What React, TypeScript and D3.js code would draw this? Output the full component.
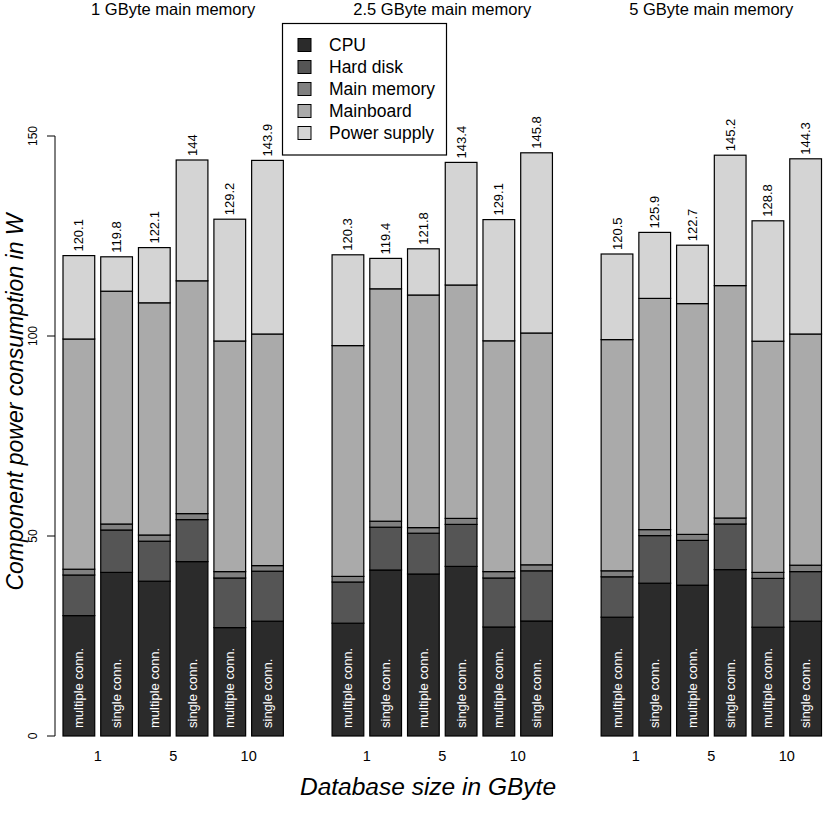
import React, { useEffect, useRef } from "react";
import * as d3 from "d3";

// panels (main memory size) and bars within each panel
const memoryConfigs = ["1 GByte main memory", "2.5 GByte main memory", "5 GByte main memory"];
const dbSizes = ["1", "5", "10"];
const connTypes = ["multiple conn.", "single conn."];

const components = ["CPU", "Hard disk", "Main memory", "Mainboard", "Power supply"];
const componentColors = ["#2b2b2b", "#555555", "#808080", "#aaaaaa", "#d4d4d4"];

// 18 bars: panel by panel, db size 1/5/10, multiple then single conn.
const cpu = [
  30.1, 40.9, 38.7, 43.6, 27.1, 28.7,
  28.2, 41.5, 40.5, 42.4, 27.25, 28.75,
  29.7, 38.2, 37.7, 41.6, 27.2, 28.7,
];
const hardDisk = [
  10.15, 10.6, 10.0, 10.5, 12.4, 12.5,
  10.3, 10.7, 10.2, 10.5, 12.25, 12.55,
  10.1, 11.9, 11.2, 11.4, 12.2, 12.4,
];
const mainMemory = [
  1.45, 1.5, 1.55, 1.5, 1.6, 1.4,
  1.4, 1.5, 1.4, 1.5, 1.6, 1.5,
  1.5, 1.5, 1.5, 1.5, 1.5, 1.6,
];
const mainboard = [
  57.55, 58.2, 58.05, 58.2, 57.65, 57.9,
  57.7, 58.1, 58.15, 58.35, 57.7, 57.95,
  57.8, 57.8, 57.7, 58.1, 57.8, 57.8,
];
const powerSupply = [
  20.85, 8.6, 13.8, 30.2, 30.45, 43.4,
  22.7, 7.6, 11.55, 30.65, 30.3, 45.05,
  21.4, 16.5, 14.6, 32.6, 30.1, 43.8,
];
const totals = [
  120.1, 119.8, 122.1, 144, 129.2, 143.9,
  120.3, 119.4, 121.8, 143.4, 129.1, 145.8,
  120.5, 125.9, 122.7, 145.2, 128.8, 144.3,
];
const yTicks = [0, 50, 100, 150];

const FONT = "'Liberation Sans', Arial, Helvetica, sans-serif";

const App = () => {
  const ref = useRef<SVGSVGElement>(null);

  useEffect(() => {
    document.body.style.margin = "0";
    const svg = d3.select(ref.current);
    svg.selectAll("*").remove();

    const series = [cpu, hardDisk, mainMemory, mainboard, powerSupply];
    const nPer = dbSizes.length * connTypes.length;

    const rows = totals.map((t, i) => {
      const r: any = { idx: i, panel: Math.floor(i / nPer), pos: i % nPer, total: t };
      components.forEach((c, k) => (r[c] = series[k][i]));
      return r;
    });

    const y = d3.scaleLinear().domain([0, 150]).range([736, 136]);
    const xPanel = d3
      .scaleBand<number>()
      .domain(d3.range(memoryConfigs.length))
      .range([63, 821.5])
      .paddingInner(0.181);
    const xBar = d3
      .scaleBand<number>()
      .domain(d3.range(nPer))
      .range([0, xPanel.bandwidth()])
      .paddingInner(0.159)
      .paddingOuter(0);

    const bx = (d: any) => xPanel(d.panel)! + xBar(d.pos)!;
    const bw = xBar.bandwidth();

    const stack = d3.stack<any>().keys(components);
    const layers = stack(rows);

    const g = svg.append("g");

    g.selectAll("g.layer")
      .data(layers)
      .enter()
      .append("g")
      .attr("class", "layer")
      .attr("fill", (d, i) => componentColors[i])
      .selectAll("rect")
      .data((d) => d)
      .enter()
      .append("rect")
      .attr("x", (d: any) => bx(d.data))
      .attr("width", bw)
      .attr("y", (d: any) => y(d[1]))
      .attr("height", (d: any) => y(d[0]) - y(d[1]))
      .attr("stroke", "#000")
      .attr("stroke-width", 1.2);

    // connection type labels inside bars
    g.selectAll("text.conn")
      .data(rows)
      .enter()
      .append("text")
      .attr("class", "conn")
      .attr("transform", (d) => `translate(${bx(d) + bw / 2},${y(0) - 8}) rotate(-90)`)
      .attr("dy", "0.35em")
      .attr("fill", "#fff")
      .style("font-family", FONT)
      .style("font-size", "13px")
      .text((d) => connTypes[d.pos % connTypes.length]);

    // total labels above bars
    g.selectAll("text.total")
      .data(rows)
      .enter()
      .append("text")
      .attr("class", "total")
      .attr("transform", (d) => {
        const top = d3.sum(components, (c) => d[c]);
        return `translate(${bx(d) + bw / 2},${y(top) - 4}) rotate(-90)`;
      })
      .attr("dy", "0.35em")
      .style("font-family", FONT)
      .style("font-size", "13px")
      .text((d) => String(d.total));

    // panel titles
    g.selectAll("text.title")
      .data(memoryConfigs)
      .enter()
      .append("text")
      .attr("x", (d, i) => xPanel(i)! + xPanel.bandwidth() / 2)
      .attr("y", 15)
      .attr("text-anchor", "middle")
      .style("font-family", FONT)
      .style("font-size", "16.5px")
      .text((d) => d);

    // x tick labels (db size), centered under bar pairs
    memoryConfigs.forEach((m, p) => {
      dbSizes.forEach((s, j) => {
        const a = xPanel(p)! + xBar(j * 2)!;
        const b = xPanel(p)! + xBar(j * 2 + 1)! + bw;
        g.append("text")
          .attr("x", (a + b) / 2)
          .attr("y", 761)
          .attr("text-anchor", "middle")
          .style("font-family", FONT)
          .style("font-size", "14.5px")
          .text(s);
      });
    });

    // y axis
    const axis = g.append("g").attr("transform", "translate(55,0)");
    axis.append("line").attr("y1", y(0)).attr("y2", y(150)).attr("stroke", "#000");
    yTicks.forEach((t) => {
      axis.append("line").attr("x1", -8).attr("x2", 0).attr("y1", y(t)).attr("y2", y(t)).attr("stroke", "#000");
      axis
        .append("text")
        .attr("transform", `translate(-18,${y(t)}) rotate(-90)`)
        .attr("text-anchor", "middle")
        .style("font-family", FONT)
        .style("font-size", "12px")
        .text(t);
    });

    // axis titles
    g.append("text")
      .attr("x", 428)
      .attr("y", 795)
      .attr("text-anchor", "middle")
      .style("font-family", FONT)
      .style("font-size", "24.5px")
      .style("font-style", "italic")
      .text("Database size in GByte");

    g.append("text")
      .attr("transform", "translate(23,402) rotate(-90)")
      .attr("text-anchor", "middle")
      .style("font-family", FONT)
      .style("font-size", "23px")
      .style("font-style", "italic")
      .text("Component power consumption in W");

    // legend
    const legend = g.append("g").attr("transform", "translate(282.5,23.5)");
    legend
      .append("rect")
      .attr("width", 164)
      .attr("height", 131.5)
      .attr("fill", "#fff")
      .attr("stroke", "#000")
      .attr("stroke-width", 1.2);
    components.forEach((c, i) => {
      const ly = 21.5 + i * 22;
      legend
        .append("rect")
        .attr("x", 15.5)
        .attr("y", ly - 6.5)
        .attr("width", 13)
        .attr("height", 13)
        .attr("fill", componentColors[i])
        .attr("stroke", "#000");
      legend
        .append("text")
        .attr("x", 46.5)
        .attr("y", ly)
        .attr("dy", "0.35em")
        .style("font-family", FONT)
        .style("font-size", "17.5px")
        .text(c);
    });
  }, []);

  return <svg ref={ref} width={830} height={830} style={{ display: "block", background: "#fff" }} />;
};

export default App;
